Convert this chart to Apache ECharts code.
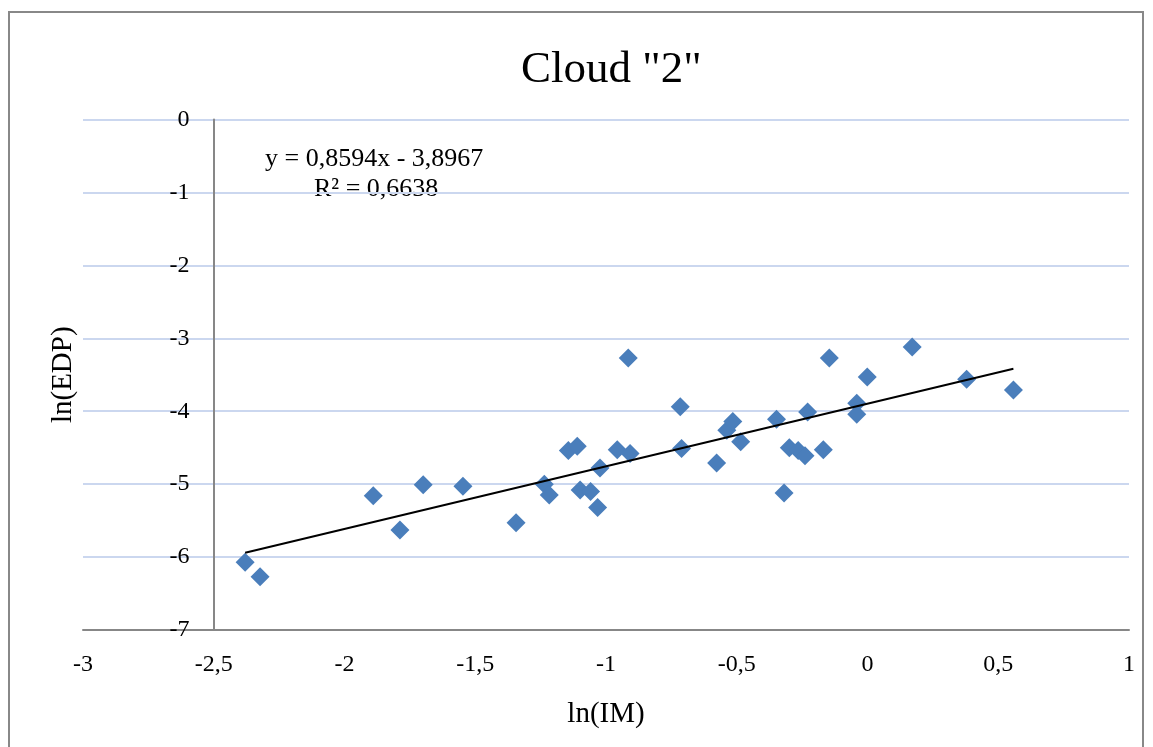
<!DOCTYPE html>
<html>
<head>
<meta charset="utf-8">
<script src="https://cdn.jsdelivr.net/npm/echarts@6/dist/echarts.min.js"></script>
<style>
  html, body { margin: 0; padding: 0; background: #fff; }
  #chart { width: 1153px; height: 747px; }
</style>
</head>
<body>
<div id="chart"></div>
<script>
// ln(IM) / ln(EDP) pairs
const lnIM = [
  -2.380, -2.323, -1.890, -1.788, -1.699, -1.547, -1.344, -1.236, -1.217, -1.144,
  -1.110, -1.099, -1.059, -1.032, -1.023, -0.957, -0.915, -0.908, -0.716, -0.711,
  -0.577, -0.538, -0.515, -0.485, -0.348, -0.319, -0.299, -0.265, -0.239, -0.229,
  -0.169, -0.146, -0.041, -0.041, -0.001, 0.171, 0.379, 0.558,
]
const lnEDP = [
  -6.07, -6.27, -5.16, -5.63, -5.01, -5.03, -5.53, -5.00, -5.15, -4.54,
  -4.48, -5.08, -5.10, -5.32, -4.78, -4.53, -3.27, -4.58, -3.94, -4.51,
  -4.71, -4.26, -4.14, -4.42, -4.11, -5.12, -4.50, -4.54, -4.61, -4.01,
  -4.53, -3.27, -3.89, -4.04, -3.53, -3.12, -3.56, -3.71,
]

// linear trendline as printed on the chart
const slope = 0.8594
const intercept = -3.8967
const rSquared = 0.6638

const xTicks = { min: -3, max: 1, step: 0.5 }
const yTicks = { min: -7, max: 0, step: 1 }

const comma = v => String(v).replace('.', ',')
const font = "'Liberation Serif', 'Times New Roman', serif"

const points = lnIM.map((x, i) => [x, lnEDP[i]])
const xLo = Math.min(...lnIM)
const xHi = Math.max(...lnIM)
const trend = [
  [xLo, slope * xLo + intercept],
  [xHi, slope * xHi + intercept],
]

const myChart = echarts.init(document.getElementById('chart'))
myChart.setOption({
  animation: false,
  textStyle: { fontFamily: font },
  title: {
    text: 'Cloud "2"',
    left: 516,
    top: 43,
    textStyle: { fontFamily: font, fontSize: 45, fontWeight: 'normal', color: '#000' },
  },
  grid: { left: 83, right: 24, top: 119.5, bottom: 117, containLabel: false },
  xAxis: {
    type: 'value',
    min: xTicks.min,
    max: xTicks.max,
    interval: xTicks.step,
    name: 'ln(IM)',
    nameLocation: 'middle',
    nameGap: 70,
    nameTextStyle: { fontFamily: font, fontSize: 29, color: '#000' },
    axisLine: { onZero: false, lineStyle: { color: '#878787', width: 2 } },
    axisTick: { show: false },
    splitLine: { show: false },
    axisLabel: {
      margin: 23,
      fontSize: 24,
      color: '#000',
      fontFamily: font,
      formatter: v => comma(v),
    },
  },
  yAxis: {
    type: 'value',
    min: yTicks.min,
    max: yTicks.max,
    interval: yTicks.step,
    offset: -130.5,
    name: 'ln(EDP)',
    nameLocation: 'middle',
    nameGap: 136,
    nameTextStyle: { fontFamily: font, fontSize: 29, color: '#000' },
    axisLine: { show: true, onZero: false, lineStyle: { color: '#878787', width: 2 } },
    axisTick: { show: false },
    splitLine: { show: true, lineStyle: { color: '#cbd7ef', width: 2 } },
    axisLabel: {
      margin: 24,
      fontSize: 24,
      color: '#000',
      fontFamily: font,
      formatter: v => comma(v),
    },
  },
  graphic: [
    {
      type: 'rect',
      shape: { x: 9, y: 12, width: 1134, height: 760 },
      style: { fill: 'none', stroke: '#888', lineWidth: 2 },
      silent: true,
      z: -1,
    },
    {
      type: 'text',
      left: 265,
      top: 146,
      style: {
        text: 'y = ' + comma(slope) + 'x - ' + comma(-intercept),
        font: '26px ' + font,
        fill: '#000',
      },
    },
    {
      type: 'text',
      left: 314,
      top: 176,
      style: {
        text: 'R² = ' + comma(rSquared),
        font: '26px ' + font,
        fill: '#000',
      },
    },
  ],
  series: [
    {
      name: 'ln(EDP)',
      type: 'scatter',
      symbol: 'diamond',
      symbolSize: 19,
      itemStyle: { color: '#4a7ebb', opacity: 1 },
      data: points,
      z: 3,
    },
    {
      name: 'Linear',
      type: 'line',
      showSymbol: false,
      symbol: 'none',
      lineStyle: { color: '#000', width: 2 },
      data: trend,
      z: 4,
    },
  ],
})
</script>
</body>
</html>
